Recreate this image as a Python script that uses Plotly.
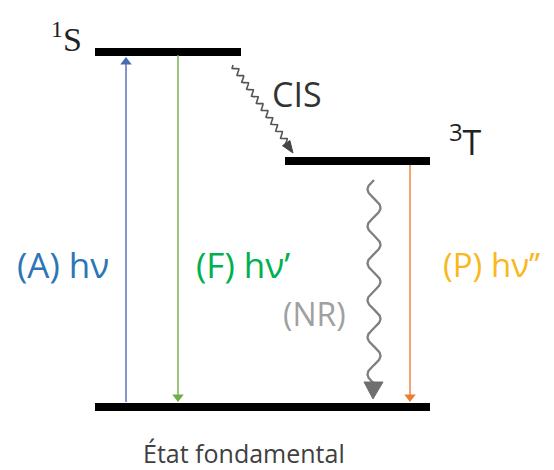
import numpy as np
import plotly.graph_objects as go

# Energy levels (diagram coordinates, y grows downward)
level_names = ["S", "T", "État fondamental"]
level_y = [52, 161, 407]
level_x0 = [95, 285, 95]
level_x1 = [241, 430, 430]

# Radiative transitions
trans_labels = ["(A) hν", "(F) hν’", "(P) hν’’"]
trans_x = [126, 178, 410]
trans_from = [402, 55, 165]
trans_to = [57, 402, 402]
trans_line_colors = ["#4A6AB8", "#70AD47", "#ED7D31"]
trans_text_colors = ["#2E75B6", "#00B050", "#F9B81C"]
trans_text_x = [63, 243, 492]
trans_text_y = [264, 264, 264]
trans_text_size = [35, 35, 33]

fig = go.Figure()

# Levels
for n, y, x0, x1 in zip(level_names, level_y, level_x0, level_x1):
    fig.add_trace(go.Scatter(x=[x0, x1], y=[y, y], mode="lines",
                             line=dict(color="black", width=8), hoverinfo="skip"))

# Radiative arrows: shaft + triangular head
for x, y0, y1, c in zip(trans_x, trans_from, trans_to, trans_line_colors):
    up = y1 < y0
    fig.add_trace(go.Scatter(x=[x, x], y=[y0, y1 + (6 if up else -6)], mode="lines",
                             line=dict(color=c, width=1.4), hoverinfo="skip"))
    fig.add_trace(go.Scatter(x=[x], y=[y1 + (5 if up else -5)], mode="markers",
                             marker=dict(symbol="triangle-up" if up else "triangle-down",
                                         size=10, color=c, line=dict(width=0)),
                             hoverinfo="skip"))

# NR wavy arrow
t = np.linspace(180, 384, 400)
nr_x = 374 + 6.5 * np.sin(2 * np.pi * (t - 180) / 37 + np.pi)
fig.add_trace(go.Scatter(x=nr_x, y=t, mode="lines", line=dict(color="#7F7F7F", width=2.3),
                         hoverinfo="skip"))
fig.add_trace(go.Scatter(x=[364, 383, 373, 364], y=[382, 382, 399, 382], mode="lines",
                         fill="toself", fillcolor="#6F6F6F", line=dict(color="#6F6F6F", width=1),
                         hoverinfo="skip"))

# CIS wavy arrow
p0 = np.array([233.0, 65.0]); p1 = np.array([287.0, 143.0])
d = p1 - p0; L = np.hypot(*d); u = d / L; nvec = np.array([-u[1], u[0]])
s = np.linspace(0, L, 400)
w = 2.6 * np.sin(2 * np.pi * s / 8.5)
cx = p0[0] + u[0] * s + nvec[0] * w
cy = p0[1] + u[1] * s + nvec[1] * w
fig.add_trace(go.Scatter(x=cx, y=cy, mode="lines", line=dict(color="#555555", width=1.6),
                         hoverinfo="skip"))
tip = np.array([293.0, 153.0])
base = tip - u * 12
tri = [base + nvec * 4.5, tip, base - nvec * 4.5, base + nvec * 4.5]
fig.add_trace(go.Scatter(x=[p[0] for p in tri], y=[p[1] for p in tri], mode="lines",
                         fill="toself", fillcolor="#444444", line=dict(color="#444444", width=1),
                         hoverinfo="skip"))

# Labels
fig.add_annotation(x=66, y=37, text="<sup>1</sup>S", showarrow=False,
                   font=dict(family="Liberation Serif", size=34, color="#222222"))
fig.add_annotation(x=465, y=140, text="<sup>3</sup>T", showarrow=False,
                   font=dict(family="Open Sans", size=34, color="#222222"))
fig.add_annotation(x=297, y=94, text="CIS", showarrow=False,
                   font=dict(family="Open Sans", size=34, color="#333333"))
fig.add_annotation(x=314, y=313, text="(NR)", showarrow=False,
                   font=dict(family="Open Sans", size=32, color="#A0A0A0"))
fig.add_annotation(x=244, y=453, text="État fondamental", showarrow=False,
                   font=dict(family="Open Sans", size=25, color="#404040"))
for lab, x, y, c, fs in zip(trans_labels, trans_text_x, trans_text_y, trans_text_colors, trans_text_size):
    fig.add_annotation(x=x, y=y, text=lab, showarrow=False,
                       font=dict(family="Open Sans", size=fs, color=c))

fig.update_layout(width=554, height=470, margin=dict(l=0, r=0, t=0, b=0),
                  plot_bgcolor="white", paper_bgcolor="white", showlegend=False,
                  xaxis=dict(range=[0, 554], visible=False, fixedrange=True),
                  yaxis=dict(range=[470, 0], visible=False, fixedrange=True))
fig.write_html("out.html", config={"displayModeBar": False},
               post_script="document.body.style.margin='0px';")
